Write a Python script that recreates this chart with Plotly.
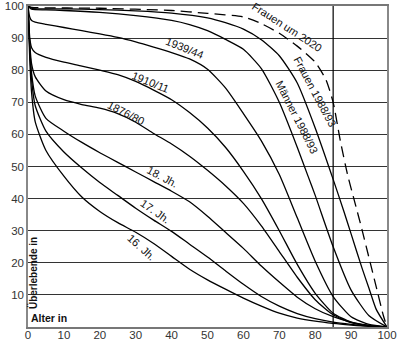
import plotly.graph_objects as go

# ---------------- data ----------------
ages_hist = [0, 0.5, 1, 2, 5, 10, 15, 20, 25, 30, 35, 40, 45, 50, 55, 60, 65, 70, 75, 80, 85, 90, 95, 100]
surv_16jh = [100, 83, 73, 64, 55, 47, 40.5, 36, 32.5, 29.5, 26, 22, 18, 14.7, 11.8, 9, 6.5, 4.3, 2.8, 1.8, 1.1, 0.6, 0.2, 0]
surv_17jh = [100, 86, 77, 69, 61, 54.5, 49.5, 45, 41, 37, 33.3, 29.8, 25.8, 21.8, 17.5, 13.3, 9.5, 6.5, 4.2, 2.6, 1.5, 0.8, 0.3, 0]
surv_18jh = [100, 87, 79, 72, 65, 61, 57.5, 54.3, 51.3, 48.3, 45.3, 42.3, 39, 34.5, 29.5, 24.5, 19, 14, 9.3, 5.7, 3.2, 1.5, 0.5, 0]
surv_1876 = [100, 88, 82, 78, 73.5, 70.8, 69.3, 68.2, 66.5, 63.8, 60.3, 57, 53.2, 48.8, 44, 38.5, 31.5, 23.5, 15.5, 8.5, 3.8, 1.4, 0.4, 0]
surv_1910 = [100, 90, 87, 85.5, 84, 82.5, 81.3, 80, 78.6, 76.5, 73.8, 70.8, 66.8, 62, 56, 48.5, 40, 30, 19.5, 10.5, 4.3, 1.5, 0.4, 0]
surv_1939 = [100, 96.5, 95.5, 95, 94.3, 93.3, 92.3, 91.3, 90.2, 88.8, 87.2, 85.5, 83.5, 80.3, 74.5, 66.5, 58, 47.5, 34, 20.5, 9.5, 3.2, 0.8, 0]

ages_m1988 = [0, 1, 5, 10, 20, 30, 40, 45, 50, 55, 60, 65, 70, 75, 78, 80, 85, 90, 95, 100]
surv_m1988 = [100, 99, 98.8, 98.6, 98, 97, 95.5, 94.2, 92.3, 89.6, 86.5, 80.5, 70, 56, 47, 41, 25, 11.5, 3.5, 0]

ages_f1988 = [0, 1, 10, 20, 30, 40, 50, 55, 60, 65, 70, 75, 80, 85, 88, 90, 93, 95, 97, 100]
surv_f1988 = [100, 99.3, 99.1, 98.9, 98.5, 97.8, 96.3, 94.8, 92.8, 89.5, 84.5, 76, 62, 46, 36, 29, 18.5, 12, 5.5, 0]

ages_f2020 = [0, 1, 20, 40, 50, 60, 65, 70, 75, 80, 83, 85, 87, 89, 91, 93, 95, 97, 99, 100]
surv_f2020 = [100, 99.6, 99.3, 98.6, 97.7, 96.6, 94.5, 91.5, 87.5, 82.5, 77, 70, 58, 47.5, 39, 30.5, 21.5, 12.5, 3.5, 0]

ref_age = 85
x_ticks = [0, 10, 20, 30, 40, 50, 60, 70, 80, 90, 100]
y_ticks = [10, 20, 30, 40, 50, 60, 70, 80, 90, 100]

series = [
    ("16. Jh.", ages_hist, surv_16jh, "solid"),
    ("17. Jh.", ages_hist, surv_17jh, "solid"),
    ("18. Jh.", ages_hist, surv_18jh, "solid"),
    ("1876/80", ages_hist, surv_1876, "solid"),
    ("1910/11", ages_hist, surv_1910, "solid"),
    ("1939/44", ages_hist, surv_1939, "solid"),
    ("Männer 1988/93", ages_m1988, surv_m1988, "solid"),
    ("Frauen 1988/93", ages_f1988, surv_f1988, "solid"),
    ("Frauen um 2020", ages_f2020, surv_f2020, "11px,6px"),
]

# label placement (text, x, y, angle)
labels = [
    ("Frauen um 2020", 72.2, 93.6, 33),
    ("Frauen 1988/93", 80.0, 73.2, 62),
    ("Männer 1988/93", 74.9, 65.4, 63),
    ("1939/44", 43.7, 87.0, 22),
    ("1910/11", 34.0, 76.3, 22),
    ("1876/80", 27.3, 66.6, 27),
    ("18. Jh.", 37.6, 46.8, 28),
    ("17. Jh.", 35.4, 36.2, 35),
    ("16. Jh.", 31.5, 24.9, 42),
]

FONT = "Liberation Sans, Arial, sans-serif"

fig = go.Figure()
for name, xs, ys, dash in series:
    fig.add_trace(go.Scatter(
        x=xs, y=ys, mode="lines", name=name,
        line=dict(color="black", width=1.3, dash=dash, shape="spline", smoothing=0.6),
        showlegend=False, hoverinfo="skip",
    ))

fig.add_vline(x=ref_age, line=dict(color="black", width=1.2))

for text, lx, ly, ang in labels:
    fig.add_annotation(x=lx, y=ly, text=text, showarrow=False, textangle=ang,
                       font=dict(family=FONT, size=11, color="#111"))

fig.add_annotation(xref="paper", yref="y", x=0.0, y=0, xanchor="left", yanchor="bottom",
                   xshift=1, yshift=1,
                   text="<b>Alter in</b>", showarrow=False,
                   font=dict(family=FONT, size=10.5, color="#111"))
fig.add_annotation(xref="paper", yref="y", x=0.0, y=16.8, xanchor="left", yanchor="middle",
                   xshift=-3,
                   text="<b>Überlebende in</b>", showarrow=False, textangle=-90,
                   font=dict(family=FONT, size=10, color="#111"))

fig.update_layout(
    width=397, height=342,
    margin=dict(l=28, r=10, t=6, b=15, autoexpand=False),
    paper_bgcolor="white", plot_bgcolor="white",
    font=dict(family=FONT, size=12, color="#333"),
    xaxis=dict(range=[0, 100], tickvals=x_ticks, showgrid=False, zeroline=False,
               automargin=False, ticklabeloverflow="allow", ticklabelstandoff=-4,
               showline=True, mirror=True, linecolor="#777", linewidth=1.5,
               ticks="", tickfont=dict(size=11.5, color="#333"), fixedrange=True),
    yaxis=dict(range=[0, 100], tickvals=y_ticks, showgrid=True, gridcolor="#333",
               gridwidth=1, zeroline=False, automargin=False, ticklabeloverflow="allow",
               showline=True, mirror=True, linecolor="#888", linewidth=1.5,
               ticks="", tickfont=dict(size=11.5, color="#333"), fixedrange=True),
)

fig.write_html("out.html")
